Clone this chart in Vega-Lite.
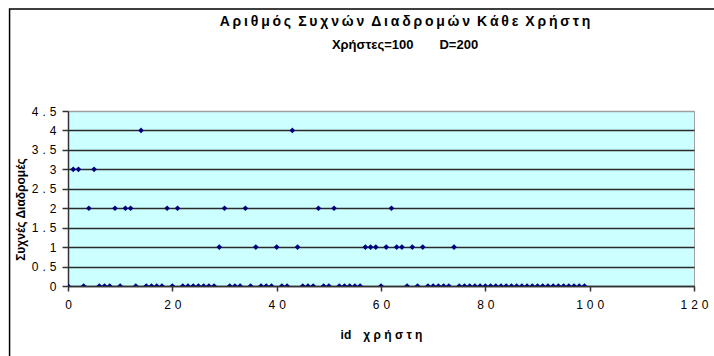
{
  "$schema": "https://vega.github.io/schema/vega-lite/v6.json",
  "width": 626,
  "height": 175,
  "autosize": {"type": "none"},
  "padding": {"left": 68, "top": 111, "right": 20, "bottom": 70},
  "background": "white",
  "title": {
    "text": "Α\u2009ρ\u2009ι\u2009θ\u2009μ\u2009ό\u2009ς\u2002Σ\u2009υ\u2009χ\u2009ν\u2009ώ\u2009ν\u2002Δ\u2009ι\u2009α\u2009δ\u2009ρ\u2009ο\u2009μ\u2009ώ\u2009ν\u2002Κ\u2009ά\u2009θ\u2009ε\u2002Χ\u2009ρ\u2009ή\u2009σ\u2009τ\u2009η",
    "subtitle": "Χρήστες=100\u2003\u2003D=200",
    "font": "Liberation Sans",
    "fontSize": 14,
    "fontWeight": "bold",
    "color": "black",
    "subtitleFont": "Liberation Sans",
    "subtitleFontSize": 13,
    "subtitleFontWeight": "bold",
    "subtitleColor": "black",
    "subtitlePadding": 10,
    "anchor": "middle",
    "frame": "group",
    "dx": 24,
    "offset": -44
  },
  "config": {
    "font": "Liberation Sans",
    "view": {"fill": "#CCFFFF", "stroke": "#a0a0a0", "strokeWidth": 1}
  },
  "resolve": {"axis": {"x": "independent", "y": "independent"}},
  "layer": [
    {
      "description": "Outer border of the chart area",
      "data": {"values": [{"part": "chart area"}]},
      "mark": {"type": "rect", "fill": "transparent", "stroke": "black", "strokeWidth": 1.5, "clip": false},
      "encoding": {
        "x": {"datum": -11.2, "type": "quantitative", "scale": {"domain": [0, 120], "nice": false, "zero": false}, "axis": null},
        "x2": {"datum": 170},
        "y": {"datum": 7.12, "type": "quantitative", "scale": {"domain": [0, 4.5], "nice": false}, "axis": null},
        "y2": {"datum": -4}
      }
    },
    {
      "data": {
        "values": [
          {"id": 0, "frequent": 0}, {"id": 1, "frequent": 3}, {"id": 2, "frequent": 3}, {"id": 3, "frequent": 0},
          {"id": 4, "frequent": 2}, {"id": 5, "frequent": 3}, {"id": 6, "frequent": 0}, {"id": 7, "frequent": 0},
          {"id": 8, "frequent": 0}, {"id": 9, "frequent": 2}, {"id": 10, "frequent": 0}, {"id": 11, "frequent": 2},
          {"id": 12, "frequent": 2}, {"id": 13, "frequent": 0}, {"id": 14, "frequent": 4}, {"id": 15, "frequent": 0},
          {"id": 16, "frequent": 0}, {"id": 17, "frequent": 0}, {"id": 18, "frequent": 0}, {"id": 19, "frequent": 2},
          {"id": 20, "frequent": 0}, {"id": 21, "frequent": 2}, {"id": 22, "frequent": 0}, {"id": 23, "frequent": 0},
          {"id": 24, "frequent": 0}, {"id": 25, "frequent": 0}, {"id": 26, "frequent": 0}, {"id": 27, "frequent": 0},
          {"id": 28, "frequent": 0}, {"id": 29, "frequent": 1}, {"id": 30, "frequent": 2}, {"id": 31, "frequent": 0},
          {"id": 32, "frequent": 0}, {"id": 33, "frequent": 0}, {"id": 34, "frequent": 2}, {"id": 35, "frequent": 0},
          {"id": 36, "frequent": 1}, {"id": 37, "frequent": 0}, {"id": 38, "frequent": 0}, {"id": 39, "frequent": 0},
          {"id": 40, "frequent": 1}, {"id": 41, "frequent": 0}, {"id": 42, "frequent": 0}, {"id": 43, "frequent": 4},
          {"id": 44, "frequent": 1}, {"id": 45, "frequent": 0}, {"id": 46, "frequent": 0}, {"id": 47, "frequent": 0},
          {"id": 48, "frequent": 2}, {"id": 49, "frequent": 0}, {"id": 50, "frequent": 0}, {"id": 51, "frequent": 2},
          {"id": 52, "frequent": 0}, {"id": 53, "frequent": 0}, {"id": 54, "frequent": 0}, {"id": 55, "frequent": 0},
          {"id": 56, "frequent": 0}, {"id": 57, "frequent": 1}, {"id": 58, "frequent": 1}, {"id": 59, "frequent": 1},
          {"id": 60, "frequent": 0}, {"id": 61, "frequent": 1}, {"id": 62, "frequent": 2}, {"id": 63, "frequent": 1},
          {"id": 64, "frequent": 1}, {"id": 65, "frequent": 0}, {"id": 66, "frequent": 1}, {"id": 67, "frequent": 0},
          {"id": 68, "frequent": 1}, {"id": 69, "frequent": 0}, {"id": 70, "frequent": 0}, {"id": 71, "frequent": 0},
          {"id": 72, "frequent": 0}, {"id": 73, "frequent": 0}, {"id": 74, "frequent": 1}, {"id": 75, "frequent": 0},
          {"id": 76, "frequent": 0}, {"id": 77, "frequent": 0}, {"id": 78, "frequent": 0}, {"id": 79, "frequent": 0},
          {"id": 80, "frequent": 0}, {"id": 81, "frequent": 0}, {"id": 82, "frequent": 0}, {"id": 83, "frequent": 0},
          {"id": 84, "frequent": 0}, {"id": 85, "frequent": 0}, {"id": 86, "frequent": 0}, {"id": 87, "frequent": 0},
          {"id": 88, "frequent": 0}, {"id": 89, "frequent": 0}, {"id": 90, "frequent": 0}, {"id": 91, "frequent": 0},
          {"id": 92, "frequent": 0}, {"id": 93, "frequent": 0}, {"id": 94, "frequent": 0}, {"id": 95, "frequent": 0},
          {"id": 96, "frequent": 0}, {"id": 97, "frequent": 0}, {"id": 98, "frequent": 0}, {"id": 99, "frequent": 0}
        ]
      },
      "mark": {"type": "point", "shape": "diamond", "filled": true, "size": 32, "color": "#000080", "opacity": 1, "clip": true},
      "encoding": {
        "x": {
          "field": "id",
          "type": "quantitative",
          "scale": {"domain": [0, 120], "nice": false, "zero": false},
          "axis": {
            "title": "id\u2003χ ρ ή σ τ η",
            "titleFont": "Liberation Sans",
            "titleFontSize": 12,
            "titleFontWeight": "bold",
            "titleColor": "black",
            "titlePadding": 19,
            "values": [0, 20, 40, 60, 80, 100, 120],
            "labelExpr": "join(split(toString(datum.value), ''), '\u2004')",
            "labelFont": "Liberation Sans",
            "labelFontSize": 12,
            "labelColor": "black",
            "labelPadding": 8,
            "labelFlush": false,
            "grid": false,
            "domainColor": "#333333",
            "domainWidth": 1.5,
            "tickColor": "#333333",
            "tickWidth": 1.5,
            "tickSize": 5
          }
        },
        "y": {
          "field": "frequent",
          "type": "quantitative",
          "scale": {"domain": [0, 4.5], "nice": false},
          "axis": {
            "title": "Συχνές Διαδρομές",
            "titleFont": "Liberation Sans",
            "titleFontSize": 12,
            "titleFontWeight": "bold",
            "titleColor": "black",
            "titleAngle": -90,
            "titleAlign": "center",
            "titleBaseline": "middle",
            "titleX": -48,
            "titleY": 98,
            "values": [0, 0.5, 1, 1.5, 2, 2.5, 3, 3.5, 4, 4.5],
            "labelExpr": "join(split(toString(datum.value), ''), '\u2004')",
            "labelFont": "Liberation Sans",
            "labelFontSize": 12,
            "labelColor": "black",
            "labelPadding": 6,
            "labelFlush": false,
            "grid": true,
            "gridColor": {"condition": {"test": "datum.value >= 4.5", "value": "#a0a0a0"}, "value": "#2a2a2a"},
            "gridWidth": 1.5,
            "domainColor": "#333333",
            "domainWidth": 1.5,
            "tickColor": "#333333",
            "tickWidth": 1.5,
            "tickSize": 6
          }
        }
      }
    }
  ]
}
